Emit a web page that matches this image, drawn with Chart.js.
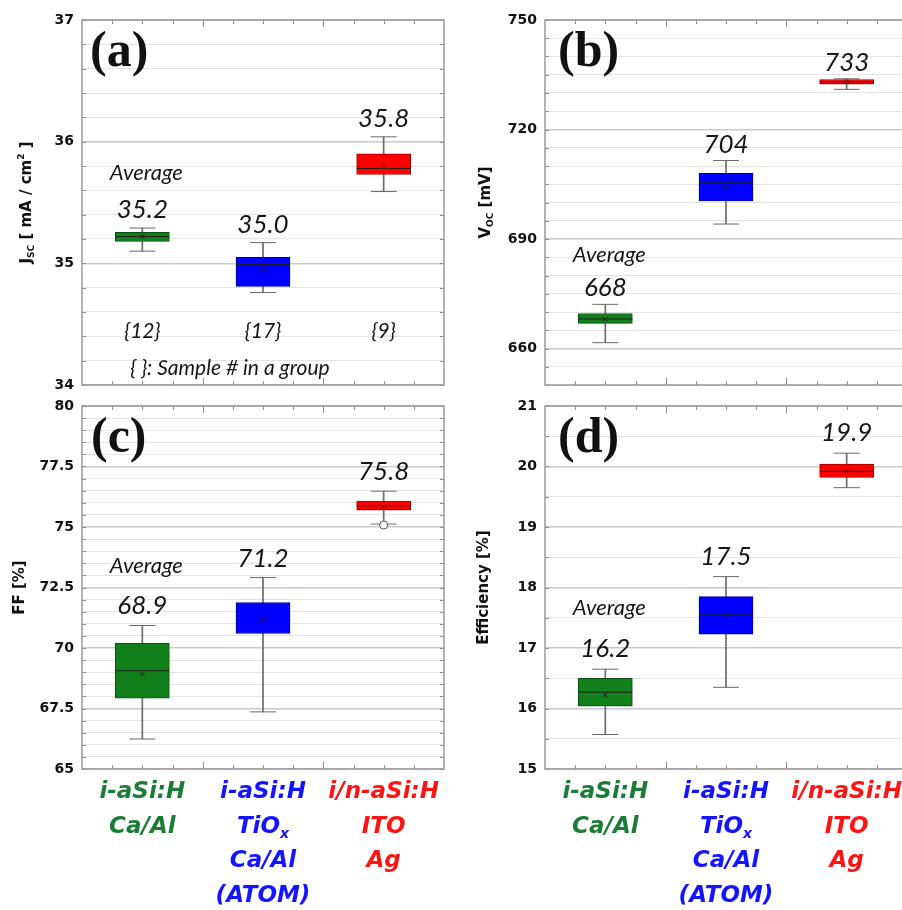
<!DOCTYPE html>
<html>
<head>
<meta charset="utf-8">
<script src="https://cdn.jsdelivr.net/npm/chart.js@4.4.1/dist/chart.umd.min.js"></script>
<style>
html, body { margin: 0; padding: 0; background: #fff; overflow: hidden; }
body { position: relative; width: 902px; height: 910px; }
canvas { position: absolute; }
</style>
</head>
<body>
<canvas id="pa" width="451" height="390" style="left:0;top:0"></canvas>
<canvas id="pb" width="480" height="390" style="left:451px;top:0"></canvas>
<canvas id="pc" width="451" height="520" style="left:0;top:390px"></canvas>
<canvas id="pd" width="480" height="520" style="left:451px;top:390px"></canvas>
<script>
// groups (x positions) and shared styling
var groups = [1, 2, 3];
var boxColors = ['#11801a', '#0000ff', '#ff0000'];
var boxEdges = ['#0b4f10', '#00008c', '#a00000'];
var labelColors = ['#1b7d35', '#1414ff', '#ff1414'];
var catLines = [
  ['i-aSi:H', 'Ca/Al'],
  ['i-aSi:H', 'TiO_{x}', 'Ca/Al', '(ATOM)'],
  ['i/n-aSi:H', 'ITO', 'Ag']
];
var sampleCounts = [12, 17, 9];

// (a) Jsc
var jscLo = [35.10, 34.76, 35.59];
var jscQ1 = [35.18, 34.81, 35.73];
var jscMed = [35.22, 34.99, 35.78];
var jscQ3 = [35.255, 35.05, 35.90];
var jscHi = [35.29, 35.17, 36.04];
var jscMean = [35.22, 34.95, 35.81];
var jscAvg = ['35.2', '35.0', '35.8'];
var jscTicks = [34, 35, 36, 37];

// (b) Voc
var vocLo = [661.6, 694.1, 731.0];
var vocQ1 = [666.9, 700.4, 732.4];
var vocMed = [668.1, 705.4, 733.1];
var vocQ3 = [669.6, 708.0, 733.7];
var vocHi = [672.1, 711.5, 733.9];
var vocMean = [668.0, 704.0, 733.0];
var vocAvg = ['668', '704', '733'];
var vocTicks = [660, 690, 720, 750];

// (c) FF
var ffLo = [66.24, 67.36, 75.12];
var ffQ1 = [67.93, 70.60, 75.70];
var ffMed = [69.06, 71.75, 75.88];
var ffQ3 = [70.19, 71.88, 76.07];
var ffHi = [70.93, 72.91, 76.48];
var ffMean = [68.92, 71.15, 75.84];
var ffOut = [null, null, 75.08];
var ffAvg = ['68.9', '71.2', '75.8'];
var ffTicks = [65, 67.5, 70, 72.5, 75, 77.5, 80];

// (d) Efficiency
var effLo = [15.57, 16.35, 19.65];
var effQ1 = [16.04, 17.23, 19.82];
var effMed = [16.27, 17.56, 19.92];
var effQ3 = [16.50, 17.85, 20.04];
var effHi = [16.65, 18.18, 20.22];
var effMean = [16.22, 17.53, 19.91];
var effAvg = ['16.2', '17.5', '19.9'];
var effTicks = [15, 16, 17, 18, 19, 20, 21];

var panels = {};
var boldFont = '"DejaVu Sans"';

function isMajor(v, list) {
  for (var i = 0; i < list.length; i++) if (Math.abs(v - list[i]) < 1e-6) return true;
  return false;
}

function drawRich(ctx, text, x, y, size, weight, style, family, align) {
  var parts = [], re = /([_^])\{([^}]*)\}/g, last = 0, m;
  while ((m = re.exec(text))) {
    if (m.index > last) parts.push({t: text.slice(last, m.index), k: ''});
    parts.push({t: m[2], k: m[1]});
    last = re.lastIndex;
  }
  if (last < text.length) parts.push({t: text.slice(last), k: ''});
  var w = 0;
  parts.forEach(function (p) {
    p.size = p.k ? Math.round(size * 0.62) : size;
    p.dy = p.k === '_' ? size * 0.22 : (p.k === '^' ? -size * 0.45 : 0);
    p.font = style + ' ' + weight + ' ' + p.size + 'px ' + family;
    ctx.font = p.font;
    p.w = ctx.measureText(p.t).width;
    w += p.w;
  });
  var cx = align === 'center' ? x - w / 2 : x;
  ctx.textAlign = 'left';
  ctx.textBaseline = 'alphabetic';
  parts.forEach(function (p) {
    ctx.font = p.font;
    ctx.fillText(p.t, cx, y + p.dy);
    cx += p.w;
  });
}

var frame = {
  id: 'frame',
  beforeDatasetsDraw: function (chart) {
    var ctx = chart.ctx, a = chart.chartArea, xs = chart.scales.x, ys = chart.scales.y;
    ctx.save();
    ctx.strokeStyle = '#8c8c8c';
    ctx.lineWidth = 1;
    ctx.beginPath();
    for (var v = 0.75; v < 3.5; v += 0.25) {
      var px = Math.round(xs.getPixelForValue(v)) + 0.5;
      var len = (Math.abs(v - 1.5) < 1e-6 || Math.abs(v - 2.5) < 1e-6) ? 7 : 4;
      ctx.moveTo(px, a.top); ctx.lineTo(px, a.top + len);
      ctx.moveTo(px, a.bottom); ctx.lineTo(px, a.bottom - len);
    }
    ys.ticks.forEach(function (t) {
      var py = Math.round(ys.getPixelForValue(t.value)) + 0.5;
      ctx.moveTo(a.left, py); ctx.lineTo(a.left + 4, py);
      ctx.moveTo(a.right, py); ctx.lineTo(a.right - 4, py);
    });
    ctx.stroke();
    ctx.strokeStyle = '#9a9a9a';
    ctx.lineWidth = 1.5;
    ctx.strokeRect(a.left, a.top, a.right - a.left, a.bottom - a.top);
    ctx.restore();
  }
};

var notes = {
  id: 'notes',
  afterDraw: function (chart) {
    var p = panels[chart.canvas.id];
    var ctx = chart.ctx, a = chart.chartArea, xs = chart.scales.x, ys = chart.scales.y;
    ctx.save();
    ctx.fillStyle = '#111';
    ctx.textBaseline = 'alphabetic';
    ctx.textAlign = 'left';
    ctx.font = 'bold 50px "Liberation Serif"';
    ctx.fillText(p.letter, a.left + p.letterDx, a.top + 46);

    ctx.save();
    ctx.translate(p.titleX, (a.top + a.bottom) / 2);
    ctx.rotate(-Math.PI / 2);
    drawRich(ctx, p.title, 0, 0, 15, 'bold', 'normal', boldFont, 'center');
    ctx.restore();

    ctx.fillStyle = '#161616';
    ctx.textAlign = 'center';
    ctx.font = 'italic 26px Lato';
    for (var i = 0; i < groups.length; i++) {
      ctx.fillText(p.avg[i], xs.getPixelForValue(groups[i]), ys.getPixelForValue(p.hi[i]) - p.numDy);
    }
    ctx.font = 'italic 22px Lato';
    ctx.fillText('Average', xs.getPixelForValue(groups[0]) + 4, ys.getPixelForValue(p.hi[0]) - p.avgDy);

    if (p.samples) {
      ctx.font = 'italic 21px Lato';
      for (var j = 0; j < groups.length; j++) {
        ctx.fillText('{' + sampleCounts[j] + '}', xs.getPixelForValue(groups[j]), ys.getPixelForValue(34.39));
      }
      ctx.textAlign = 'left';
      ctx.fillText('{ }: Sample # in a group', xs.getPixelForValue(0.9), ys.getPixelForValue(34.08));
    }

    if (p.xlabels) {
      for (var k = 0; k < groups.length; k++) {
        ctx.fillStyle = labelColors[k];
        catLines[k].forEach(function (line, n) {
          drawRich(ctx, line, xs.getPixelForValue(groups[k]), a.bottom + 29 + n * 34.5, 23, 'bold', 'italic', boldFont, 'center');
        });
      }
    }
    ctx.restore();
  }
};

function pts(vals) {
  var out = [];
  for (var i = 0; i < groups.length; i++) {
    if (vals[i] !== null) out.push({x: groups[i], y: vals[i]});
  }
  return out;
}

function makePanel(id, p) {
  panels[id] = p;
  var datasets = [
    {
      type: 'bar', order: 3, grouped: false, barThickness: 1,
      data: groups.map(function (g, i) { return {x: g, y: [p.lo[i], p.hi[i]]}; }),
      backgroundColor: '#6a6a6a', borderWidth: 0
    },
    {
      type: 'bar', order: 2, grouped: false, barThickness: 54,
      data: groups.map(function (g, i) { return {x: g, y: [p.q1[i], p.q3[i]]}; }),
      backgroundColor: boxColors, borderColor: boxEdges, borderWidth: 1, borderSkipped: false
    },
    {
      type: 'line', order: 1, showLine: false, data: pts(p.hi),
      pointStyle: 'line', pointRadius: 13, pointBorderColor: '#6a6a6a', pointBorderWidth: 1
    },
    {
      type: 'line', order: 1, showLine: false, data: pts(p.lo),
      pointStyle: 'line', pointRadius: 13, pointBorderColor: '#6a6a6a', pointBorderWidth: 1
    },
    {
      type: 'line', order: 0, showLine: false, data: pts(p.med),
      pointStyle: 'line', pointRadius: 27, pointBorderColor: '#1e1e1e', pointBorderWidth: 1
    },
    {
      type: 'line', order: 0, showLine: false, data: pts(p.mean),
      pointStyle: 'crossRot', pointRadius: 3, pointBorderColor: '#1e1e1e', pointBorderWidth: 1
    }
  ];
  if (p.out) {
    datasets.push({
      type: 'line', order: 0, showLine: false, data: pts(p.out),
      pointStyle: 'circle', pointRadius: 4, pointBackgroundColor: '#fff',
      pointBorderColor: '#555', pointBorderWidth: 1
    });
  }
  new Chart(document.getElementById(id), {
    type: 'bar',
    data: {datasets: datasets},
    options: {
      responsive: false,
      animation: false,
      events: [],
      layout: {padding: p.pad, autoPadding: false},
      plugins: {legend: {display: false}, tooltip: {enabled: false}},
      scales: {
        x: {type: 'linear', min: 0.5, max: 3.5, offset: false, display: false},
        y: {
          min: p.min, max: p.max,
          afterFit: function (s) { s.width = p.yWidth; s.paddingTop = 0; s.paddingBottom = 0; },
          border: {display: false},
          grid: {
            drawTicks: false,
            color: function (c) { return isMajor(c.tick.value, p.ticks) ? '#c9c9c9' : '#e3e3e3'; },
            lineWidth: function (c) { return isMajor(c.tick.value, p.ticks) ? 1.5 : 1; }
          },
          ticks: {
            stepSize: p.minor, autoSkip: false, maxTicksLimit: 200, padding: 8,
            color: '#111', font: {family: 'DejaVu Sans', weight: 'bold', size: 14},
            callback: function (v) { return isMajor(v, p.ticks) ? String(v) : ''; }
          }
        }
      }
    },
    plugins: [frame, notes]
  });
}

makePanel('pa', {
  lo: jscLo, q1: jscQ1, med: jscMed, q3: jscQ3, hi: jscHi, mean: jscMean, avg: jscAvg,
  min: 34, max: 37, minor: 0.2, ticks: jscTicks,
  pad: {top: 20, right: 7, bottom: 5, left: 0}, yWidth: 82,
  letter: '(a)', letterDx: 8, title: 'J_{SC} [ mA / cm^{2} ]', titleX: 31,
  numDy: 10, avgDy: 48, samples: true, xlabels: false
});
makePanel('pb', {
  lo: vocLo, q1: vocQ1, med: vocMed, q3: vocQ3, hi: vocHi, mean: vocMean, avg: vocAvg,
  min: 650, max: 750, minor: 5, ticks: vocTicks,
  pad: {top: 20, right: 24, bottom: 5, left: 0}, yWidth: 94,
  letter: '(b)', letterDx: 13, title: 'V_{OC} [mV]', titleX: 39,
  numDy: 8, avgDy: 42, samples: false, xlabels: false
});
makePanel('pc', {
  lo: ffLo, q1: ffQ1, med: ffMed, q3: ffQ3, hi: ffHi, mean: ffMean, avg: ffAvg, out: ffOut,
  min: 65, max: 80, minor: 0.5, ticks: ffTicks,
  pad: {top: 16, right: 7, bottom: 141, left: 0}, yWidth: 82,
  letter: '(c)', letterDx: 9, title: 'FF [%]', titleX: 24,
  numDy: 11, avgDy: 52, samples: false, xlabels: true
});
makePanel('pd', {
  lo: effLo, q1: effQ1, med: effMed, q3: effQ3, hi: effHi, mean: effMean, avg: effAvg,
  min: 15, max: 21, minor: 0.5, ticks: effTicks,
  pad: {top: 16, right: 24, bottom: 141, left: 0}, yWidth: 94,
  letter: '(d)', letterDx: 13, title: 'Efficiency [%]', titleX: 37,
  numDy: 12, avgDy: 54, samples: false, xlabels: true
});
</script>
</body>
</html>
